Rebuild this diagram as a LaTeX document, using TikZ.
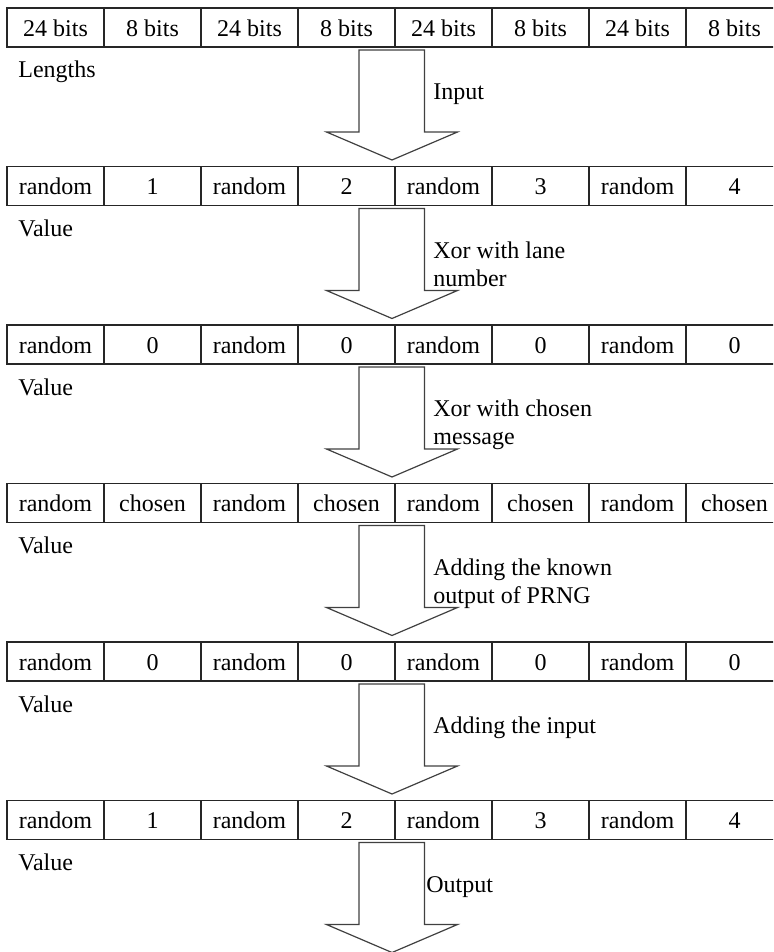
\documentclass[tikz,border=0pt]{standalone}
\usepackage{fontspec}
\setmainfont{Liberation Serif}
\begin{document}
\begin{tikzpicture}[x=0.5pt,y=-0.5pt,
  txt/.style={font=\fontsize{12}{14}\selectfont},
  cell/.style={txt, draw=black!85, line width=0.6pt, minimum width=48.5pt, minimum height=19.5pt, inner sep=0pt, text height=9.5pt, text depth=0.8pt},
  rowlabel/.style={txt, anchor=base west, inner sep=0pt},
  arrowlabel/.style={txt, anchor=base west, inner sep=0pt, align=left},
  blockarrow/.style={draw=black!75, line width=0.6pt, line join=miter}]
\useasboundingbox (0,0) rectangle (773,952);
\clip (0,0) rectangle (773,952);
% rows of cells
\foreach \r/\texts in {
  1/{24 bits,8 bits,24 bits,8 bits,24 bits,8 bits,24 bits,8 bits},
  2/{random,1,random,2,random,3,random,4},
  3/{random,0,random,0,random,0,random,0},
  4/{random,chosen,random,chosen,random,chosen,random,chosen},
  5/{random,0,random,0,random,0,random,0},
  6/{random,1,random,2,random,3,random,4}}{
  \foreach \t [count=\c] in \texts {
    \node[cell] (r\r c\c) at ({7+97*(\c-0.5)},{8+158.5*(\r-1)+19.5}) {\t};
  }
}
% row labels
\node[rowlabel] (lab1) at (18,{8+39+31}) {Lengths};
\foreach \r in {2,...,6}{
  \node[rowlabel] (lab\r) at (18,{8+158.5*(\r-1)+39+31}) {Value};
}
% block arrows
\foreach \r in {1,...,6}{
  \pgfmathsetmacro{\b}{8+158.5*(\r-1)+39}
  \draw[blockarrow] (359,\b+3) -- (424.5,\b+3) -- (424.5,\b+85) -- (457.5,\b+85)
     -- (392,\b+113) -- (326.5,\b+85) -- (359,\b+85) -- cycle;
}
% arrow labels (base anchor of a two-line label is its last line)
\node[arrowlabel] (op1) at (433,{8+39+52.5}) {Input};
\node[arrowlabel] (op2) at (433,{8+158.5*1+39+80.5}) {Xor with lane\\number};
\node[arrowlabel] (op3) at (433,{8+158.5*2+39+80.5}) {Xor with chosen\\message};
\node[arrowlabel] (op4) at (433,{8+158.5*3+39+80.5}) {Adding the known\\output of PRNG};
\node[arrowlabel] (op5) at (433,{8+158.5*4+39+52.5}) {Adding the input};
\node[arrowlabel] (op6) at (426,{8+158.5*5+39+52.5}) {Output};
\end{tikzpicture}
\end{document}
